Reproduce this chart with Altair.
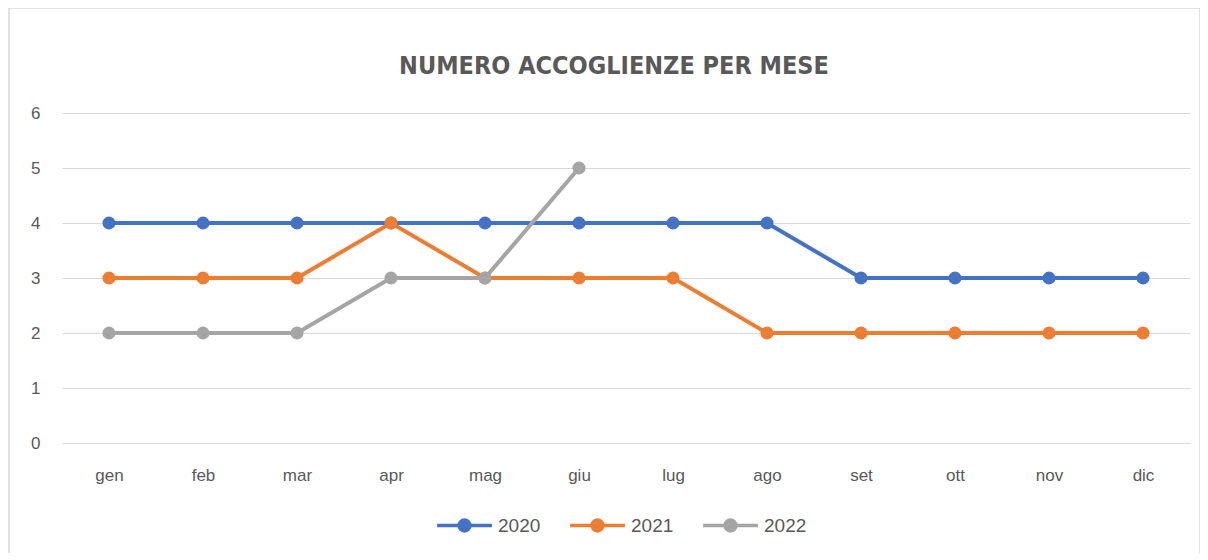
import altair as alt
import pandas as pd

months = ["gen", "feb", "mar", "apr", "mag", "giu", "lug", "ago", "set", "ott", "nov", "dic"]
s2020 = [4, 4, 4, 4, 4, 4, 4, 4, 3, 3, 3, 3]
s2021 = [3, 3, 3, 4, 3, 3, 3, 2, 2, 2, 2, 2]
s2022 = [2, 2, 2, 3, 3, 5]
series_names = ["2020", "2021", "2022"]
colors = ["#4472C4", "#ED7D31", "#A5A5A5"]

rows = []
for name, vals in zip(series_names, [s2020, s2021, s2022]):
    for i, v in enumerate(vals):
        rows.append({"mese": months[i], "valore": v, "anno": name, "ord": series_names.index(name)})
df = pd.DataFrame(rows)

text_col = "#595959"
font = "Liberation Sans"

x = alt.X("mese:N", sort=months, title=None,
          scale=alt.Scale(type="point", padding=0.5),
          axis=alt.Axis(labelAngle=0, labelFontSize=17, labelColor=text_col, labelFont=font,
                        ticks=False, domain=False, grid=False, labelPadding=24))
y = alt.Y("valore:Q", title=None,
          scale=alt.Scale(domain=[0, 6], nice=False),
          axis=alt.Axis(values=[0, 1, 2, 3, 4, 5, 6], labelFontSize=17, labelColor=text_col,
                        labelFont=font, ticks=False, domain=False, gridColor="#D9D9D9",
                        gridWidth=1, labelPadding=22))
color = alt.Color("anno:N", scale=alt.Scale(domain=series_names, range=colors), title=None,
                  legend=alt.Legend(orient="none", legendX=373, legendY=383, direction="horizontal",
                                    symbolType="M-1,0L1,0M-0.2,0A0.2,0.2,0,1,0,0.2,0A0.2,0.2,0,1,0,-0.2,0Z",
                                    symbolSize=3000, symbolStrokeWidth=3.5, labelFontSize=19,
                                    labelColor=text_col, labelFont=font, columnPadding=22,
                                    labelOffset=4))

base = alt.Chart(df)
lines = base.mark_line(strokeWidth=4).encode(x=x, y=y, color=color, detail="anno:N")
points = base.mark_circle(size=170, opacity=1).encode(x=x, y=y, color=color, order="ord:Q")

frame = alt.Chart(pd.DataFrame({"a": [0]})).mark_rect(fill=None, stroke="#D9D9D9", strokeWidth=1.5, clip=False).encode(
    x=alt.value(-53), x2=alt.value(1138), y=alt.value(-105), y2=alt.value(480))

chart = alt.layer(frame, lines, points).properties(
    width=1128, height=330,
    title=alt.Title("NUMERO ACCOGLIENZE PER MESE",
                    font="'DejaVu Sans Condensed', 'Liberation Sans Narrow', 'DejaVu Sans', sans-serif",
                    fontSize=25, fontWeight="bold", color=text_col, anchor="middle",
                    offset=0, dy=97, dx=-12, baseline="bottom"),
    autosize=alt.AutoSizeParams(type="none"),
    padding={"left": 54, "top": 105, "right": 10, "bottom": 110},
).configure(background="white", view=alt.ViewConfig(stroke=None))

chart.save("out.html", embed_options={"renderer": "svg", "actions": False})
